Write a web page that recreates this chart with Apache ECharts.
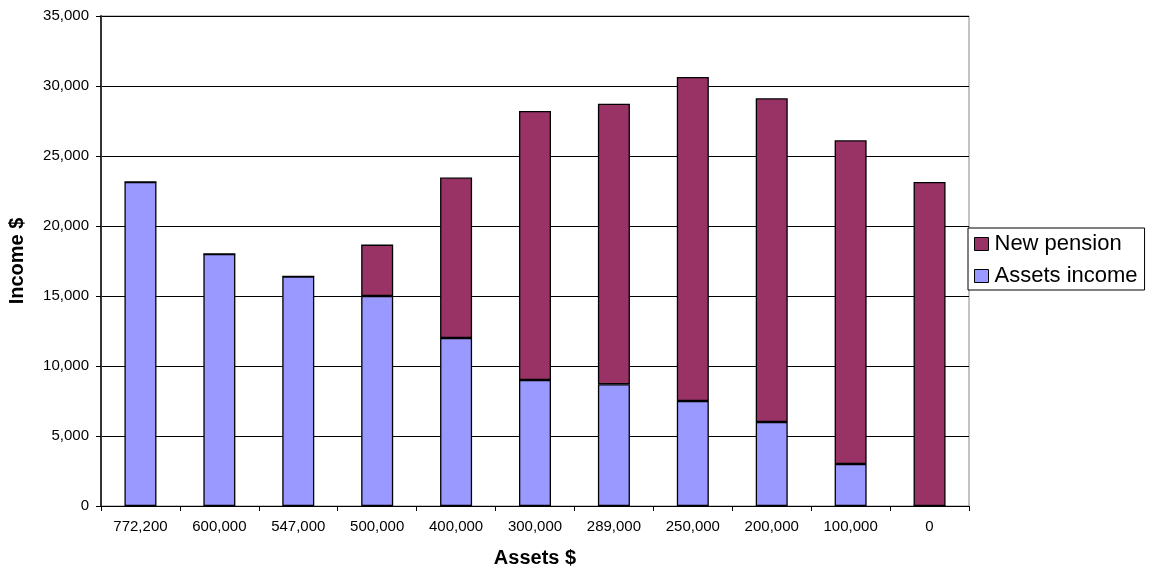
<!DOCTYPE html>
<html>
<head>
<meta charset="utf-8">
<script src="https://cdn.jsdelivr.net/npm/echarts@6/dist/echarts.min.js"></script>
<style>
html,body{margin:0;padding:0;background:#fff;}
#chart{width:1152px;height:572px;}
</style>
</head>
<body>
<div id="chart"></div>
<script>
const categories = ['772,200','600,000','547,000','500,000','400,000','300,000','289,000','250,000','200,000','100,000','0'];
const assetsIncome = [23150, 18000, 16400, 15000, 12000, 9000, 8700, 7500, 6000, 3000, 0];
const newPension = [0, 0, 0, 3670, 11460, 19210, 20040, 23140, 23120, 23120, 23150];
const yTicks = [0, 5000, 10000, 15000, 20000, 25000, 30000, 35000];

const FONT = '"Liberation Sans", Arial, sans-serif';
const chart = echarts.init(document.getElementById('chart'), null, {renderer: 'canvas'});
chart.setOption({
  animation: false,
  backgroundColor: '#fff',
  textStyle: {fontFamily: FONT, color: '#000'},
  grid: {left: 101, right: 183, top: 16, bottom: 66, containLabel: false, outerBoundsMode: 'none',
         show: true, borderColor: '#888', borderWidth: 1, backgroundColor: '#fff'},
  legend: {
    data: ['New pension', 'Assets income'],
    orient: 'vertical',
    left: 968, top: 228,
    backgroundColor: '#fff',
    borderColor: '#000', borderWidth: 1,
    padding: [5, 7, 3, 6],
    itemGap: 10,
    itemWidth: 14, itemHeight: 13,
    icon: 'rect',
    itemStyle: {borderColor: '#000', borderWidth: 1},
    textStyle: {fontFamily: FONT, fontSize: 22, color: '#000', padding: [0, 0, 0, 1]}
  },
  xAxis: {
    type: 'category',
    data: categories,
    name: 'Assets $',
    nameLocation: 'middle',
    nameGap: 42,
    nameTextStyle: {fontFamily: FONT, fontSize: 20, fontWeight: 'bold', color: '#000'},
    axisLine: {lineStyle: {color: '#000', width: 1}},
    axisTick: {show: true, length: 5, lineStyle: {color: '#000'}},
    axisLabel: {fontFamily: FONT, fontSize: 15, color: '#000', margin: 13}
  },
  yAxis: {
    type: 'value',
    min: yTicks[0], max: yTicks[yTicks.length - 1], interval: 5000,
    name: 'Income $',
    nameLocation: 'middle',
    nameGap: 74,
    nameTextStyle: {fontFamily: FONT, fontSize: 20, fontWeight: 'bold', color: '#000'},
    axisLine: {show: true, lineStyle: {color: '#333', width: 2}},
    axisTick: {show: true, length: 5, lineStyle: {color: '#000'}},
    axisLabel: {fontFamily: FONT, fontSize: 15, color: '#000', margin: 12,
      formatter: v => v.toLocaleString('en-US')},
    splitLine: {show: true, lineStyle: {color: '#000', width: 1}}
  },
  series: [
    {name: 'Assets income', type: 'bar', stack: 'total', data: assetsIncome, barWidth: 32,
     itemStyle: {color: '#9999FF', borderColor: '#000', borderWidth: 1.3}},
    {name: 'New pension', type: 'bar', stack: 'total', data: newPension, barWidth: 32,
     itemStyle: {color: '#993366', borderColor: '#000', borderWidth: 1.3}}
  ]
});
</script>
</body>
</html>
